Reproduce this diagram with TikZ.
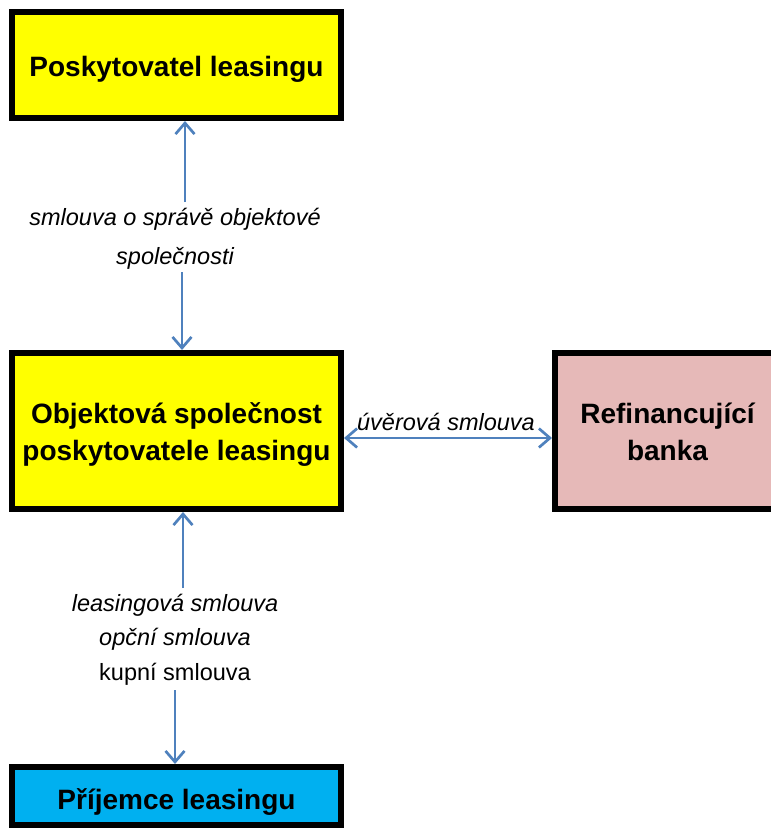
\documentclass[tikz,border=0pt]{standalone}
\usepackage{fontspec}
\setmainfont{Liberation Sans}
\usetikzlibrary{arrows.meta}
\definecolor{boxyellow}{RGB}{255,255,0}
\definecolor{boxblue}{RGB}{0,176,240}
\definecolor{boxpink}{RGB}{230,185,184}
\definecolor{arrowblue}{RGB}{79,129,189}
\newcommand{\lowertext}[2]{\raisebox{-#1}[\height][\depth]{#2}}
\begin{document}
\begin{tikzpicture}[x=1pt,y=-1pt,
  box/.style={draw=black, line width=6pt, rectangle, inner sep=0pt, align=center,
    font=\fontsize{28}{37}\selectfont\bfseries},
  conn/.style={draw=arrowblue, line width=2.7pt, -{Straight Barb[length=11pt,width=19pt]}},
  biconn/.style={draw=arrowblue, line width=2.7pt,
    {Straight Barb[length=11pt,width=19pt]}-{Straight Barb[length=11pt,width=19pt]}},
  lab/.style={inner sep=0pt, align=center}]
\clip (0,0) rectangle (771,828);
% boxes
\node[box, fill=boxyellow, minimum width=329pt, minimum height=106pt] (prov) at (176.5,65)
  {\lowertext{4pt}{Poskytovatel leasingu}};
\node[box, fill=boxyellow, minimum width=329pt, minimum height=156pt] (obj) at (176.5,431)
  {\lowertext{3.5pt}{\begin{tabular}{@{}c@{}}Objektová společnost\\poskytovatele leasingu\end{tabular}}};
\node[box, fill=boxpink, minimum width=225pt, minimum height=156pt] (bank) at (667.5,431)
  {\lowertext{3.5pt}{\begin{tabular}{@{}c@{}}Refinancující\\banka\end{tabular}}};
\node[box, fill=boxblue, minimum width=329pt, minimum height=58pt] (rec) at (176.5,796)
  {\lowertext{6pt}{Příjemce leasingu}};
% labels
\node[lab, font=\fontsize{23.5}{39}\selectfont\itshape] (l1) at (175,238.5)
  {smlouva o správě objektové\\společnosti};
\node[lab, font=\fontsize{23.5}{34.5}\selectfont\itshape] (l2) at (175,639.5)
  {leasingová smlouva\\opční smlouva\\{\upshape kupní smlouva}};
\node[lab, font=\fontsize{23.5}{28}\selectfont\itshape, anchor=base] (l3) at (446,430)
  {úvěrová smlouva};
% connector ends at the labels
\coordinate (a1) at (185,202);
\coordinate (a2) at (182,272);
\coordinate (b1) at (183,588);
\coordinate (b2) at (175,690);
% connectors
\draw[conn] (a1) -- (a1 |- prov.south);
\draw[conn] (a2) -- (a2 |- obj.north);
\draw[conn] (b1) -- (b1 |- obj.south);
\draw[conn] (b2) -- (b2 |- rec.north);
\draw[biconn] ([yshift=-7pt]obj.east) -- ([yshift=-7pt]bank.west);
\end{tikzpicture}
\end{document}
